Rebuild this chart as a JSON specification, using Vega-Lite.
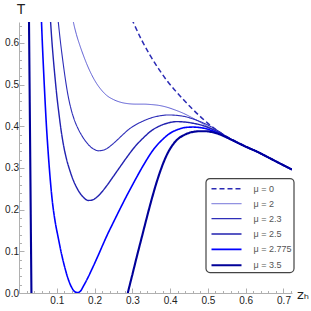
{
  "$schema": "https://vega.github.io/schema/vega-lite/v6.json",
  "width": 273,
  "height": 271,
  "autosize": {"type": "none"},
  "padding": {"left": 19, "top": 22, "right": 19, "bottom": 18},
  "background": "white",
  "config": {
    "view": {"stroke": null},
    "legend": {
      "orient": "none",
      "legendX": 186.7,
      "legendY": 156.3,
      "padding": 2,
      "rowPadding": 1.4,
      "symbolType": "M-2,0H2",
      "symbolSize": 225,
      "symbolOffset": 9.8,
      "labelOffset": 18,
      "labelFont": "Liberation Sans",
      "labelFontSize": 9,
      "labelColor": "#555555",
      "strokeColor": "#444444",
      "strokeWidth": 1.2,
      "cornerRadius": 4,
      "fillColor": "white"
    }
  },
  "data": {
    "values": [
      {"mu": "μ = 0", "b": "a", "z": 0.29, "T": 0.675},
      {"mu": "μ = 0", "b": "a", "z": 0.302, "T": 0.65},
      {"mu": "μ = 0", "b": "a", "z": 0.325, "T": 0.606},
      {"mu": "μ = 0", "b": "a", "z": 0.347, "T": 0.57},
      {"mu": "μ = 0", "b": "a", "z": 0.37, "T": 0.537},
      {"mu": "μ = 0", "b": "a", "z": 0.391, "T": 0.51},
      {"mu": "μ = 0", "b": "a", "z": 0.413, "T": 0.486},
      {"mu": "μ = 0", "b": "a", "z": 0.435, "T": 0.464},
      {"mu": "μ = 0", "b": "a", "z": 0.457, "T": 0.443},
      {"mu": "μ = 0", "b": "a", "z": 0.479, "T": 0.424},
      {"mu": "μ = 0", "b": "a", "z": 0.5, "T": 0.407},
      {"mu": "μ = 0", "b": "a", "z": 0.524, "T": 0.39},
      {"mu": "μ = 0", "b": "a", "z": 0.55, "T": 0.375},
      {"mu": "μ = 0", "b": "a", "z": 0.575, "T": 0.363},
      {"mu": "μ = 0", "b": "a", "z": 0.6, "T": 0.352},
      {"mu": "μ = 0", "b": "a", "z": 0.63, "T": 0.339},
      {"mu": "μ = 0", "b": "a", "z": 0.656, "T": 0.327},
      {"mu": "μ = 0", "b": "a", "z": 0.69, "T": 0.311},
      {"mu": "μ = 0", "b": "a", "z": 0.7225, "T": 0.296},

      {"mu": "μ = 2", "b": "a", "z": 0.138, "T": 0.68},
      {"mu": "μ = 2", "b": "a", "z": 0.143, "T": 0.654},
      {"mu": "μ = 2", "b": "a", "z": 0.152, "T": 0.62},
      {"mu": "μ = 2", "b": "a", "z": 0.161, "T": 0.594},
      {"mu": "μ = 2", "b": "a", "z": 0.17, "T": 0.571},
      {"mu": "μ = 2", "b": "a", "z": 0.179, "T": 0.55},
      {"mu": "μ = 2", "b": "a", "z": 0.192, "T": 0.524},
      {"mu": "μ = 2", "b": "a", "z": 0.205, "T": 0.503},
      {"mu": "μ = 2", "b": "a", "z": 0.218, "T": 0.487},
      {"mu": "μ = 2", "b": "a", "z": 0.232, "T": 0.474},
      {"mu": "μ = 2", "b": "a", "z": 0.25, "T": 0.464},
      {"mu": "μ = 2", "b": "a", "z": 0.267, "T": 0.458},
      {"mu": "μ = 2", "b": "a", "z": 0.29, "T": 0.454},
      {"mu": "μ = 2", "b": "a", "z": 0.31, "T": 0.453},
      {"mu": "μ = 2", "b": "a", "z": 0.33, "T": 0.453},
      {"mu": "μ = 2", "b": "a", "z": 0.35, "T": 0.452},
      {"mu": "μ = 2", "b": "a", "z": 0.37, "T": 0.45},
      {"mu": "μ = 2", "b": "a", "z": 0.39, "T": 0.446},
      {"mu": "μ = 2", "b": "a", "z": 0.41, "T": 0.44},
      {"mu": "μ = 2", "b": "a", "z": 0.435, "T": 0.431},
      {"mu": "μ = 2", "b": "a", "z": 0.457, "T": 0.421},
      {"mu": "μ = 2", "b": "a", "z": 0.479, "T": 0.41},
      {"mu": "μ = 2", "b": "a", "z": 0.5, "T": 0.399},
      {"mu": "μ = 2", "b": "a", "z": 0.524, "T": 0.387},
      {"mu": "μ = 2", "b": "a", "z": 0.55, "T": 0.374},
      {"mu": "μ = 2", "b": "a", "z": 0.575, "T": 0.362},
      {"mu": "μ = 2", "b": "a", "z": 0.6, "T": 0.351},
      {"mu": "μ = 2", "b": "a", "z": 0.63, "T": 0.339},
      {"mu": "μ = 2", "b": "a", "z": 0.656, "T": 0.327},
      {"mu": "μ = 2", "b": "a", "z": 0.69, "T": 0.311},
      {"mu": "μ = 2", "b": "a", "z": 0.7225, "T": 0.296},

      {"mu": "μ = 2.3", "b": "a", "z": 0.1, "T": 0.685},
      {"mu": "μ = 2.3", "b": "a", "z": 0.1035, "T": 0.654},
      {"mu": "μ = 2.3", "b": "a", "z": 0.11, "T": 0.6},
      {"mu": "μ = 2.3", "b": "a", "z": 0.117, "T": 0.55},
      {"mu": "μ = 2.3", "b": "a", "z": 0.124, "T": 0.505},
      {"mu": "μ = 2.3", "b": "a", "z": 0.131, "T": 0.468},
      {"mu": "μ = 2.3", "b": "a", "z": 0.139, "T": 0.437},
      {"mu": "μ = 2.3", "b": "a", "z": 0.147, "T": 0.414},
      {"mu": "μ = 2.3", "b": "a", "z": 0.157, "T": 0.393},
      {"mu": "μ = 2.3", "b": "a", "z": 0.168, "T": 0.375},
      {"mu": "μ = 2.3", "b": "a", "z": 0.179, "T": 0.361},
      {"mu": "μ = 2.3", "b": "a", "z": 0.19, "T": 0.35},
      {"mu": "μ = 2.3", "b": "a", "z": 0.2, "T": 0.344},
      {"mu": "μ = 2.3", "b": "a", "z": 0.21, "T": 0.341},
      {"mu": "μ = 2.3", "b": "a", "z": 0.22, "T": 0.342},
      {"mu": "μ = 2.3", "b": "a", "z": 0.232, "T": 0.346},
      {"mu": "μ = 2.3", "b": "a", "z": 0.245, "T": 0.355},
      {"mu": "μ = 2.3", "b": "a", "z": 0.26, "T": 0.367},
      {"mu": "μ = 2.3", "b": "a", "z": 0.275, "T": 0.38},
      {"mu": "μ = 2.3", "b": "a", "z": 0.29, "T": 0.392},
      {"mu": "μ = 2.3", "b": "a", "z": 0.31, "T": 0.404},
      {"mu": "μ = 2.3", "b": "a", "z": 0.33, "T": 0.413},
      {"mu": "μ = 2.3", "b": "a", "z": 0.35, "T": 0.42},
      {"mu": "μ = 2.3", "b": "a", "z": 0.373, "T": 0.425},
      {"mu": "μ = 2.3", "b": "a", "z": 0.395, "T": 0.427},
      {"mu": "μ = 2.3", "b": "a", "z": 0.418, "T": 0.426},
      {"mu": "μ = 2.3", "b": "a", "z": 0.44, "T": 0.423},
      {"mu": "μ = 2.3", "b": "a", "z": 0.462, "T": 0.417},
      {"mu": "μ = 2.3", "b": "a", "z": 0.485, "T": 0.409},
      {"mu": "μ = 2.3", "b": "a", "z": 0.506, "T": 0.4},
      {"mu": "μ = 2.3", "b": "a", "z": 0.53, "T": 0.387},
      {"mu": "μ = 2.3", "b": "a", "z": 0.55, "T": 0.375},
      {"mu": "μ = 2.3", "b": "a", "z": 0.575, "T": 0.362},
      {"mu": "μ = 2.3", "b": "a", "z": 0.6, "T": 0.351},
      {"mu": "μ = 2.3", "b": "a", "z": 0.63, "T": 0.339},
      {"mu": "μ = 2.3", "b": "a", "z": 0.656, "T": 0.327},
      {"mu": "μ = 2.3", "b": "a", "z": 0.69, "T": 0.311},
      {"mu": "μ = 2.3", "b": "a", "z": 0.7225, "T": 0.296},

      {"mu": "μ = 2.5", "b": "a", "z": 0.0805, "T": 0.69},
      {"mu": "μ = 2.5", "b": "a", "z": 0.0833, "T": 0.654},
      {"mu": "μ = 2.5", "b": "a", "z": 0.087, "T": 0.605},
      {"mu": "μ = 2.5", "b": "a", "z": 0.091, "T": 0.56},
      {"mu": "μ = 2.5", "b": "a", "z": 0.095, "T": 0.52},
      {"mu": "μ = 2.5", "b": "a", "z": 0.1, "T": 0.474},
      {"mu": "μ = 2.5", "b": "a", "z": 0.106, "T": 0.428},
      {"mu": "μ = 2.5", "b": "a", "z": 0.111, "T": 0.393},
      {"mu": "μ = 2.5", "b": "a", "z": 0.1167, "T": 0.36},
      {"mu": "μ = 2.5", "b": "a", "z": 0.125, "T": 0.324},
      {"mu": "μ = 2.5", "b": "a", "z": 0.1345, "T": 0.294},
      {"mu": "μ = 2.5", "b": "a", "z": 0.143, "T": 0.272},
      {"mu": "μ = 2.5", "b": "a", "z": 0.152, "T": 0.254},
      {"mu": "μ = 2.5", "b": "a", "z": 0.161, "T": 0.24},
      {"mu": "μ = 2.5", "b": "a", "z": 0.17, "T": 0.23},
      {"mu": "μ = 2.5", "b": "a", "z": 0.183, "T": 0.222},
      {"mu": "μ = 2.5", "b": "a", "z": 0.194, "T": 0.223},
      {"mu": "μ = 2.5", "b": "a", "z": 0.205, "T": 0.229},
      {"mu": "μ = 2.5", "b": "a", "z": 0.218, "T": 0.241},
      {"mu": "μ = 2.5", "b": "a", "z": 0.232, "T": 0.257},
      {"mu": "μ = 2.5", "b": "a", "z": 0.25, "T": 0.28},
      {"mu": "μ = 2.5", "b": "a", "z": 0.267, "T": 0.302},
      {"mu": "μ = 2.5", "b": "a", "z": 0.285, "T": 0.325},
      {"mu": "μ = 2.5", "b": "a", "z": 0.305, "T": 0.349},
      {"mu": "μ = 2.5", "b": "a", "z": 0.329, "T": 0.372},
      {"mu": "μ = 2.5", "b": "a", "z": 0.35, "T": 0.389},
      {"mu": "μ = 2.5", "b": "a", "z": 0.373, "T": 0.401},
      {"mu": "μ = 2.5", "b": "a", "z": 0.395, "T": 0.408},
      {"mu": "μ = 2.5", "b": "a", "z": 0.4175, "T": 0.411},
      {"mu": "μ = 2.5", "b": "a", "z": 0.44, "T": 0.41},
      {"mu": "μ = 2.5", "b": "a", "z": 0.4615, "T": 0.407},
      {"mu": "μ = 2.5", "b": "a", "z": 0.485, "T": 0.402},
      {"mu": "μ = 2.5", "b": "a", "z": 0.506, "T": 0.395},
      {"mu": "μ = 2.5", "b": "a", "z": 0.53, "T": 0.385},
      {"mu": "μ = 2.5", "b": "a", "z": 0.55, "T": 0.374},
      {"mu": "μ = 2.5", "b": "a", "z": 0.575, "T": 0.362},
      {"mu": "μ = 2.5", "b": "a", "z": 0.6, "T": 0.351},
      {"mu": "μ = 2.5", "b": "a", "z": 0.63, "T": 0.339},
      {"mu": "μ = 2.5", "b": "a", "z": 0.656, "T": 0.327},
      {"mu": "μ = 2.5", "b": "a", "z": 0.69, "T": 0.311},
      {"mu": "μ = 2.5", "b": "a", "z": 0.7225, "T": 0.296},

      {"mu": "μ = 2.775", "b": "a", "z": 0.057, "T": 0.71},
      {"mu": "μ = 2.775", "b": "a", "z": 0.0594, "T": 0.654},
      {"mu": "μ = 2.775", "b": "a", "z": 0.062, "T": 0.595},
      {"mu": "μ = 2.775", "b": "a", "z": 0.065, "T": 0.535},
      {"mu": "μ = 2.775", "b": "a", "z": 0.0685, "T": 0.47},
      {"mu": "μ = 2.775", "b": "a", "z": 0.072, "T": 0.41},
      {"mu": "μ = 2.775", "b": "a", "z": 0.077, "T": 0.34},
      {"mu": "μ = 2.775", "b": "a", "z": 0.082, "T": 0.28},
      {"mu": "μ = 2.775", "b": "a", "z": 0.088, "T": 0.222},
      {"mu": "μ = 2.775", "b": "a", "z": 0.095, "T": 0.175},
      {"mu": "μ = 2.775", "b": "a", "z": 0.1035, "T": 0.134},
      {"mu": "μ = 2.775", "b": "a", "z": 0.112, "T": 0.096},
      {"mu": "μ = 2.775", "b": "a", "z": 0.121, "T": 0.062},
      {"mu": "μ = 2.775", "b": "a", "z": 0.13, "T": 0.034},
      {"mu": "μ = 2.775", "b": "a", "z": 0.139, "T": 0.014},
      {"mu": "μ = 2.775", "b": "a", "z": 0.148, "T": 0.003},
      {"mu": "μ = 2.775", "b": "a", "z": 0.155, "T": 0.001},
      {"mu": "μ = 2.775", "b": "a", "z": 0.163, "T": 0.005},
      {"mu": "μ = 2.775", "b": "a", "z": 0.172, "T": 0.019},
      {"mu": "μ = 2.775", "b": "a", "z": 0.183, "T": 0.038},
      {"mu": "μ = 2.775", "b": "a", "z": 0.196, "T": 0.063},
      {"mu": "μ = 2.775", "b": "a", "z": 0.21, "T": 0.091},
      {"mu": "μ = 2.775", "b": "a", "z": 0.223, "T": 0.118},
      {"mu": "μ = 2.775", "b": "a", "z": 0.236, "T": 0.144},
      {"mu": "μ = 2.775", "b": "a", "z": 0.249, "T": 0.168},
      {"mu": "μ = 2.775", "b": "a", "z": 0.267, "T": 0.201},
      {"mu": "μ = 2.775", "b": "a", "z": 0.2804, "T": 0.225},
      {"mu": "μ = 2.775", "b": "a", "z": 0.302, "T": 0.262},
      {"mu": "μ = 2.775", "b": "a", "z": 0.329, "T": 0.306},
      {"mu": "μ = 2.775", "b": "a", "z": 0.355, "T": 0.343},
      {"mu": "μ = 2.775", "b": "a", "z": 0.382, "T": 0.37},
      {"mu": "μ = 2.775", "b": "a", "z": 0.405, "T": 0.386},
      {"mu": "μ = 2.775", "b": "a", "z": 0.4175, "T": 0.391},
      {"mu": "μ = 2.775", "b": "a", "z": 0.44, "T": 0.397},
      {"mu": "μ = 2.775", "b": "a", "z": 0.46, "T": 0.398},
      {"mu": "μ = 2.775", "b": "a", "z": 0.485, "T": 0.396},
      {"mu": "μ = 2.775", "b": "a", "z": 0.506, "T": 0.391},
      {"mu": "μ = 2.775", "b": "a", "z": 0.53, "T": 0.382},
      {"mu": "μ = 2.775", "b": "a", "z": 0.55, "T": 0.373},
      {"mu": "μ = 2.775", "b": "a", "z": 0.575, "T": 0.362},
      {"mu": "μ = 2.775", "b": "a", "z": 0.6, "T": 0.351},
      {"mu": "μ = 2.775", "b": "a", "z": 0.63, "T": 0.339},
      {"mu": "μ = 2.775", "b": "a", "z": 0.656, "T": 0.327},
      {"mu": "μ = 2.775", "b": "a", "z": 0.69, "T": 0.311},
      {"mu": "μ = 2.775", "b": "a", "z": 0.7225, "T": 0.296},

      {"mu": "μ = 3.5", "b": "a", "z": 0.026, "T": 0.7},
      {"mu": "μ = 3.5", "b": "a", "z": 0.0265, "T": 0.65},
      {"mu": "μ = 3.5", "b": "a", "z": 0.0281, "T": 0.49},
      {"mu": "μ = 3.5", "b": "a", "z": 0.0297, "T": 0.33},
      {"mu": "μ = 3.5", "b": "a", "z": 0.0313, "T": 0.165},
      {"mu": "μ = 3.5", "b": "a", "z": 0.0329, "T": 0.0},
      {"mu": "μ = 3.5", "b": "a", "z": 0.0334, "T": -0.05},

      {"mu": "μ = 3.5", "b": "b", "z": 0.285, "T": -0.012},
      {"mu": "μ = 3.5", "b": "b", "z": 0.288, "T": 0.0},
      {"mu": "μ = 3.5", "b": "b", "z": 0.3, "T": 0.044},
      {"mu": "μ = 3.5", "b": "b", "z": 0.312, "T": 0.088},
      {"mu": "μ = 3.5", "b": "b", "z": 0.325, "T": 0.134},
      {"mu": "μ = 3.5", "b": "b", "z": 0.338, "T": 0.18},
      {"mu": "μ = 3.5", "b": "b", "z": 0.35, "T": 0.221},
      {"mu": "μ = 3.5", "b": "b", "z": 0.362, "T": 0.259},
      {"mu": "μ = 3.5", "b": "b", "z": 0.375, "T": 0.295},
      {"mu": "μ = 3.5", "b": "b", "z": 0.39, "T": 0.329},
      {"mu": "μ = 3.5", "b": "b", "z": 0.405, "T": 0.353},
      {"mu": "μ = 3.5", "b": "b", "z": 0.42, "T": 0.369},
      {"mu": "μ = 3.5", "b": "b", "z": 0.435, "T": 0.378},
      {"mu": "μ = 3.5", "b": "b", "z": 0.45, "T": 0.384},
      {"mu": "μ = 3.5", "b": "b", "z": 0.465, "T": 0.387},
      {"mu": "μ = 3.5", "b": "b", "z": 0.48, "T": 0.388},
      {"mu": "μ = 3.5", "b": "b", "z": 0.495, "T": 0.388},
      {"mu": "μ = 3.5", "b": "b", "z": 0.51, "T": 0.386},
      {"mu": "μ = 3.5", "b": "b", "z": 0.53, "T": 0.381},
      {"mu": "μ = 3.5", "b": "b", "z": 0.55, "T": 0.373},
      {"mu": "μ = 3.5", "b": "b", "z": 0.575, "T": 0.362},
      {"mu": "μ = 3.5", "b": "b", "z": 0.6, "T": 0.351},
      {"mu": "μ = 3.5", "b": "b", "z": 0.63, "T": 0.339},
      {"mu": "μ = 3.5", "b": "b", "z": 0.656, "T": 0.327},
      {"mu": "μ = 3.5", "b": "b", "z": 0.69, "T": 0.311},
      {"mu": "μ = 3.5", "b": "b", "z": 0.7225, "T": 0.296}
    ]
  },
  "mark": {"type": "line", "clip": true, "interpolate": "monotone"},
  "encoding": {
    "x": {
      "field": "z",
      "type": "quantitative",
      "scale": {"domain": [0, 0.7225], "nice": false, "zero": false},
      "axis": {
        "values": [0.02, 0.04, 0.06, 0.08, 0.1, 0.12, 0.14, 0.16, 0.18, 0.2, 0.22, 0.24, 0.26, 0.28, 0.3, 0.32, 0.34, 0.36, 0.38, 0.4, 0.42, 0.44, 0.46, 0.48, 0.5, 0.52, 0.54, 0.56, 0.58, 0.6, 0.62, 0.64, 0.66, 0.68, 0.7, 0.72],
        "labelExpr": "abs(datum.value*10-round(datum.value*10))<0.001 ? format(datum.value,'.1f') : ''",
        "tickSize": {"condition": {"test": "abs(datum.value*10-round(datum.value*10))<0.001", "value": -5}, "value": -2.5},
        "labelPadding": 7,
        "grid": false,
        "labelOverlap": false,
        "labelFlush": false,
        "domainColor": "#b0b0b0",
        "tickColor": "#b0b0b0",
        "domainWidth": 1,
        "tickWidth": 1,
        "labelFont": "Liberation Sans",
        "labelFontSize": 10,
        "labelColor": "#222222",
        "title": "zₕ",
        "titleFont": "DejaVu Sans",
        "titleFontSize": 13,
        "titleFontWeight": "normal",
        "titleColor": "#222222",
        "titleAlign": "left",
        "titleBaseline": "alphabetic",
        "titleX": 277.5,
        "titleY": 5
      }
    },
    "y": {
      "field": "T",
      "type": "quantitative",
      "scale": {"domain": [0, 0.65], "nice": false},
      "axis": {
        "values": [0, 0.02, 0.04, 0.06, 0.08, 0.1, 0.12, 0.14, 0.16, 0.18, 0.2, 0.22, 0.24, 0.26, 0.28, 0.3, 0.32, 0.34, 0.36, 0.38, 0.4, 0.42, 0.44, 0.46, 0.48, 0.5, 0.52, 0.54, 0.56, 0.58, 0.6, 0.62, 0.64],
        "labelExpr": "abs(datum.value*10-round(datum.value*10))<0.001 ? format(datum.value,'.1f') : ''",
        "tickSize": {"condition": {"test": "abs(datum.value*10-round(datum.value*10))<0.001", "value": -5}, "value": -2.5},
        "labelPadding": 5.5,
        "grid": false,
        "labelOverlap": false,
        "labelFlush": false,
        "domainColor": "#b0b0b0",
        "tickColor": "#b0b0b0",
        "domainWidth": 1,
        "tickWidth": 1,
        "labelFont": "Liberation Sans",
        "labelFontSize": 10,
        "labelColor": "#222222",
        "title": "T",
        "titleFont": "Liberation Sans",
        "titleFontSize": 14,
        "titleFontWeight": "normal",
        "titleColor": "#222222",
        "titleAngle": 0,
        "titleAlign": "center",
        "titleBaseline": "middle",
        "titleX": 1.5,
        "titleY": -12.5
      }
    },
    "color": {
      "field": "mu",
      "type": "nominal",
      "scale": {
        "domain": ["μ = 0", "μ = 2", "μ = 2.3", "μ = 2.5", "μ = 2.775", "μ = 3.5"],
        "range": ["#2a2ab4", "#3535c8", "#2e2eb8", "#2222b0", "#0000ff", "#000099"]
      },
      "legend": {"title": null}
    },
    "strokeWidth": {
      "field": "mu",
      "type": "nominal",
      "scale": {
        "type": "ordinal",
        "domain": ["μ = 0", "μ = 2", "μ = 2.3", "μ = 2.5", "μ = 2.775", "μ = 3.5"],
        "range": [1.5, 0.8, 1.1, 1.4, 1.6, 2.1]
      },
      "legend": {"title": null}
    },
    "strokeDash": {
      "field": "mu",
      "type": "nominal",
      "scale": {
        "domain": ["μ = 0", "μ = 2", "μ = 2.3", "μ = 2.5", "μ = 2.775", "μ = 3.5"],
        "range": [[5, 3], [1, 0], [1, 0], [1, 0], [1, 0], [1, 0]]
      },
      "legend": {"title": null}
    },
    "detail": {"field": "b", "type": "nominal"}
  }
}
